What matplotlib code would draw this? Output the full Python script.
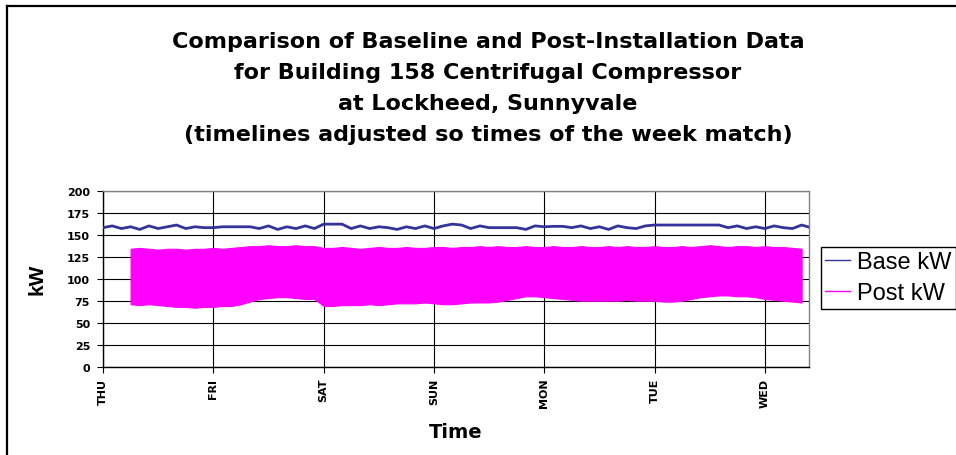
import numpy as np
import matplotlib
matplotlib.use("Agg")
import matplotlib.pyplot as plt
from matplotlib.lines import Line2D

plt.rcParams['font.family'] = ['Liberation Sans', 'DejaVu Sans']

# ---------------- data ----------------
day_labels = ["THU", "FRI", "SAT", "SUN", "MON", "TUE", "WED"]
y_ticks = [0, 25, 50, 75, 100, 125, 150, 175, 200]

# Base kW, every 2 hours from THU 00:00
base_hours = list(range(0, 156, 2))
base_kw = [158, 160, 157, 159, 156, 160, 157, 159, 161, 157,
           159, 158, 158, 159, 159, 159, 159, 157, 160, 156,
           159, 157, 160, 157, 162, 162, 162, 157, 160, 157,
           159, 158, 156, 159, 157, 160, 157, 160, 162, 161,
           157, 160, 158, 158, 158, 158, 156, 160, 159, 159.5,
           159.5, 158, 160, 157, 159, 156, 160, 158, 157, 160,
           161, 161, 161, 161, 161, 161, 161, 161, 158, 160,
           157, 159, 157, 160, 158, 157, 161, 158]

# Post kW envelope (cycling between low and high), every 2 hours from THU 06:00
post_hours = list(range(6, 154, 2))
post_lo = [71, 70, 71, 70, 69, 68, 68, 67, 68, 68,
           69, 69, 71, 74, 77, 78, 79, 79, 78, 77,
           77, 69, 69, 70, 70, 70, 71, 70, 71, 72,
           72, 72, 73, 72, 71, 71, 72, 73, 73, 73,
           74, 76, 78, 80, 80, 79, 78, 77, 76, 75,
           75, 75, 75, 75, 76, 75, 75, 75, 74, 74,
           75, 77, 79, 80, 81, 81, 80, 80, 79, 77,
           76, 75, 74, 73]
post_hi = [134, 135, 134, 133, 134, 134, 133, 134, 134, 135,
           134, 135, 136, 137, 137, 138, 137, 137, 138, 137,
           137, 135, 135, 136, 135, 134, 135, 136, 135, 135,
           136, 135, 135, 136, 136, 135, 136, 136, 137, 136,
           137, 136, 136, 137, 136, 136, 137, 136, 136, 137,
           136, 136, 137, 136, 137, 136, 136, 137, 136, 136,
           137, 136, 137, 138, 137, 136, 137, 137, 136, 137,
           136, 136, 135, 134]

# ---------------- figure ----------------
W, H = 956, 456
fig = plt.figure(figsize=(W / 100, H / 100), dpi=100)
fig.patch.set_facecolor("white")

# outer chart frame (top and left visible)
fig.add_artist(Line2D([7 / W, 1], [1 - 7 / H, 1 - 7 / H], color="black", lw=1.6, transform=fig.transFigure))
fig.add_artist(Line2D([7 / W, 7 / W], [0, 1 - 7 / H], color="black", lw=1.6, transform=fig.transFigure))

ax_l, ax_r, ax_t, ax_b = 103, 809, 191.7, 367.7
ax = fig.add_axes([ax_l / W, 1 - ax_b / H, (ax_r - ax_l) / W, (ax_b - ax_t) / H])

bh = np.array(base_hours) / 24.0
ph = np.array(post_hours) / 24.0

navy = "#333399"
magenta = "#FF00FF"

ax.fill_between(ph, post_lo, post_hi, color=magenta, lw=0.8, edgecolor=magenta, zorder=3)
ax.plot(bh, base_kw, color=navy, lw=2.0, zorder=4)

ax.set_xlim(0, 6.4)
ax.set_ylim(0, 200)
tick_font = dict(family="DejaVu Sans", size=8, weight="bold")
ax.set_yticks(y_ticks)
ax.set_yticklabels([str(v) for v in y_ticks], **tick_font)
ax.set_xticks(range(len(day_labels)))
ax.set_xticklabels(day_labels, rotation=90, **tick_font)
ax.tick_params(axis="both", length=4.3, width=0.8, color="black", direction="out")
ax.tick_params(axis="y", pad=5)
ax.tick_params(axis="x", pad=3.5)

ax.grid(True, color="black", lw=0.8, zorder=1)
ax.set_axisbelow(True)
for s in ["left", "bottom"]:
    ax.spines[s].set_color("black")
    ax.spines[s].set_linewidth(1.0)
for s in ["top", "right"]:
    ax.spines[s].set_color("#808080")
    ax.spines[s].set_linewidth(1.0)

ax.set_ylabel("kW", fontsize=15, fontweight="bold")
ax.yaxis.set_label_coords((36.7 - ax_l) / (ax_r - ax_l), 0.5)
ax.yaxis.label.set_va("center")
ax.set_xlabel("Time", family="DejaVu Sans", fontsize=14, fontweight="bold")
ax.xaxis.set_label_coords(0.5, (ax_b - 433) / (ax_b - ax_t))
ax.xaxis.label.set_va("center")

# title
title_lines = ["Comparison of Baseline and Post-Installation Data",
               "for Building 158 Centrifugal Compressor",
               "at Lockheed, Sunnyvale",
               "(timelines adjusted so times of the week match)"]
for i, line in enumerate(title_lines):
    fig.text(488 / W, 1 - (42 + 31 * i) / H, line, ha="center", va="center",
             family="DejaVu Sans", fontsize=16, fontweight="bold")

handles = [Line2D([], [], color=navy, lw=1), Line2D([], [], color=magenta, lw=1)]
leg = fig.legend(handles, ["Base kW", "Post kW"], loc="upper left",
                 bbox_to_anchor=(820.7 / W, 1 - 247.7 / H), fontsize=17,
                 frameon=True, fancybox=False, framealpha=1, edgecolor="black",
                 handlelength=1.05, handletextpad=0.3, labelspacing=0.38,
                 borderpad=0.2, borderaxespad=0)
leg.get_frame().set_linewidth(1.0)

fig.savefig("out.png", dpi=100, facecolor="white")
